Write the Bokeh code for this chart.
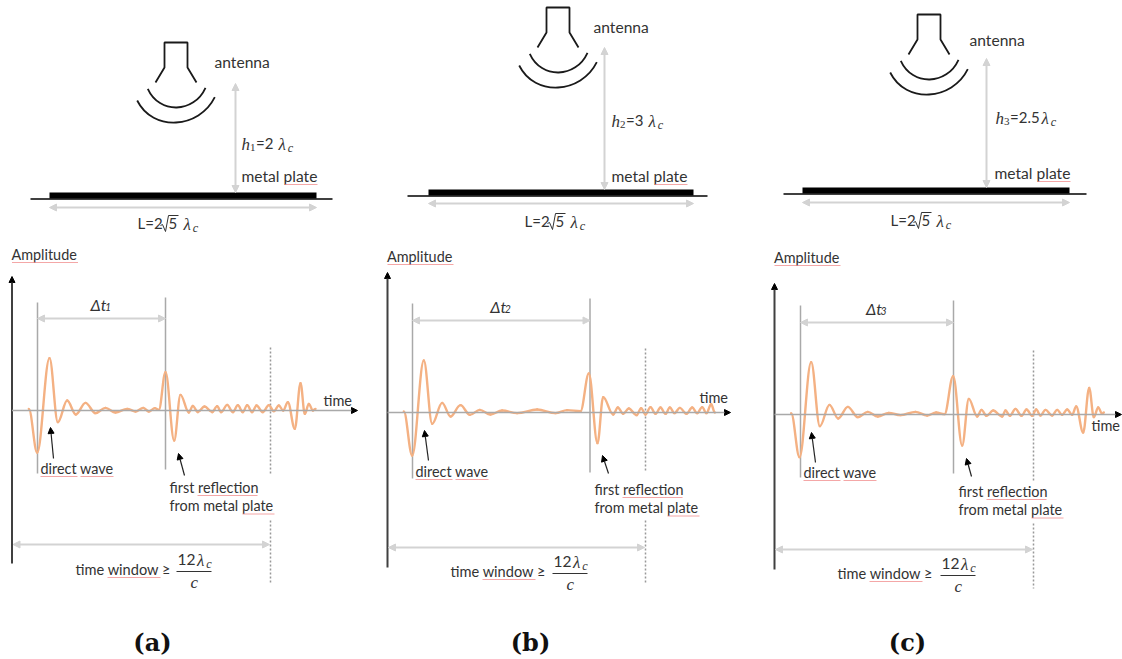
from bokeh.plotting import figure
from bokeh.models import Range1d, Arrow, NormalHead
from bokeh.core.properties import value
from bokeh.embed import file_html
from bokeh.resources import INLINE

# ---- waveform extrema (time, amplitude), in 1/3 px units
time_a = [85,110,147,172,200,226,255,285,315,345,380,405,428,445,463,475,495,521,540,565,577,592,612,635,650,662,680,697,712,727,740,755,768,787,805,820,835,848,862,883,900,913,925,937,945]
amp_a = [5,-126,157,-35,30,-12,23,-8,8,-6,5,-3,8,-3,7,2,115,-90,47,-6,14,-5,12,-5,13,-5,17,-5,16,-5,16,-5,15,-5,16,-2,15,0,25,-55,82,-10,20,0,5]
time_b = [70,95,130,155,185,210,240,268,298,330,365,410,470,525,560,600,625,651,668,698,712,728,745,768,782,795,810,825,840,855,868,882,898,918,935,950,965,978,992,1003]
amp_b = [3,-129,156,-34,29,-12,22,-7,8,-6,6,-2,9,-2,7,4,117,-92,46,-6,15,-4,12,-8,13,-6,16,-4,15,-4,15,-2,14,-4,15,-2,16,-2,25,0]
time_c = [62,87,122,148,177,203,232,262,292,322,355,390,435,470,497,522,548,575,595,620,633,648,668,695,705,718,735,753,768,785,797,810,825,845,860,875,890,905,917,938,956,970,983,995,1000]
amp_c = [4,-128,157,-35,29,-12,23,-8,8,-6,5,-2,8,-3,6,1,115,-93,47,-6,14,-4,12,-6,12,-4,17,-4,15,-4,15,-3,14,-3,14,-1,15,-1,24,-54,80,-8,21,2,6]
wave_times = [time_a, time_b, time_c]
wave_amps = [amp_a, amp_b, amp_c]
wave_x0 = [0, 380, 770]

# ---- panel geometry (px)
panel_sub = ["1", "2", "3"]
height_txt = ["=2", "=3", "=2.5"]
antenna_dx = [0, 382, 753]
antenna_dy = [0, -35, -28]
plate_left = [49, 428, 802]
plate_right = [316, 693, 1069]
plate_top = [192, 189, 187]
ground_left = [30, 407, 783]
ground_right = [332, 707, 1086]
h_arrow_x = [235, 604, 986]
h_arrow_top = [83, 47, 58]
h_label_xy = [(241, 144), (611, 121), (995, 118)]
plate_label_xy = [(241, 177), (611, 177), (994, 174)]
ant_label_xy = [(214, 63), (593, 28), (969, 41)]
l_arrow_y = [207, 203, 202]
l_label_x = [137, 524, 890]
l_label_y = [224, 222, 221]
yaxis_x = [11.5, 387, 774]
yaxis_top = [276, 272, 283]
yaxis_bot = [563, 567, 569]
ampl_y = [255, 257, 258]
xaxis_y = [410, 412, 414]
xaxis_end = [357, 730, 1121]
v1_x = [37, 412, 800]
v1_top = [302, 303, 305]
v1_bot = [473, 478, 477]
v2_x = [165, 589.5, 953]
v2_top = [297, 298, 300]
v2_bot = [469, 472, 473]
delta_y = [318, 320, 322]
dot_x = [270, 645, 1033]
dot_top = [347, 348, 350]
dot_gap = [473, 470, 480]
dot_resume = [520, 520, 523]
dot_bot = [582, 584, 588]
time_xy = [(323, 401), (699, 398), (1091, 426)]
direct_xy = [(40, 469), (415, 472), (803, 473)]
direct_arrow = [(53, 458, 50, 427), (428, 460, 424, 430), (815, 462, 811, 432)]
refl_xy = [(169, 488), (594, 490), (958, 492)]
refl_arrow = [(184, 475, 178, 453), (608, 473, 602, 455), (971, 476, 966, 458)]
win_y = [544, 547, 549]
win_txt_x = [75, 450, 837]
frac_left = [176, 552, 940]
frac_y = [571, 573, 575]
caption_x = [152, 530, 907]
captions = ["(a)", "(b)", "(c)"]

# antenna template in panel (a)
horn_x = [155, 164, 164, 187, 187, 196]
horn_y = [82, 67, 42, 42, 67, 82]
arc_ends = [(147.3, 88.3, 205, 87.3, 107), (136.7, 100, 214.3, 96.7, 122)]

SANS = value("Lato")
MATH = value("Liberation Serif")
GREY = "#d3d3d3"
MID = "#a9a9a9"
ORANGE = "#f4b183"
INK = "#333333"
PINK = "#f08a8a"

p = figure(width=1122, height=659, x_range=Range1d(0, 1122), y_range=Range1d(659, 0),
           x_axis_type=None, y_axis_type=None, output_backend="svg", toolbar_location=None,
           min_border=0, outline_line_color=None, background_fill_color="white")
p.grid.visible = False


def label(x, y, s, size=14.4, font=SANS, color=INK, style="normal", align="left", baseline="middle"):
    p.text([x], [y - 1.5 if font == SANS else y], text=[s], text_font=font,
           text_font_size=f"{size}px", text_color=color,
           text_font_style=style, text_align=align, text_baseline=baseline)


def lambda_c(x, y, size=17):
    label(x, y, "λ", size, MATH, INK, "italic")
    label(x + size * 0.55, y + 3, "c", size * 0.72, MATH, INK, "italic")


def dbl_arrow(x0, y0, x1, y1):
    p.add_layout(Arrow(start=NormalHead(size=7, fill_color=GREY, line_color=GREY),
                       end=NormalHead(size=7, fill_color=GREY, line_color=GREY),
                       x_start=x0, y_start=y0, x_end=x1, y_end=y1, line_color=GREY, line_width=2))


def squiggle(x0, x1, y):
    p.line([x0, x1], [y, y], line_color=PINK, line_width=1, line_alpha=0.75)


for i in range(3):
    # antenna
    dx, dy = antenna_dx[i], antenna_dy[i]
    p.line([v + dx for v in horn_x], [v + dy for v in horn_y], line_color="#1a1a1a", line_width=1.8)
    for x0, y0, x1, y1, bot in arc_ends:
        w = x1 - x0
        c = (bot - (y0 + y1) / 2) / 0.75
        p.bezier([x0 + dx], [y0 + dy], [x1 + dx], [y1 + dy],
                 [x0 + dx + 0.2 * w], [y0 + dy + c], [x1 + dx - 0.2 * w], [y1 + dy + c],
                 line_color="#1a1a1a", line_width=1.8)
    label(ant_label_xy[i][0], ant_label_xy[i][1], "antenna", 15.6)

    # plate and ground
    p.quad(left=[plate_left[i]], right=[plate_right[i]], top=[plate_top[i]], bottom=[plate_top[i] + 6],
           fill_color="black", line_color=None)
    p.line([ground_left[i], ground_right[i]], [plate_top[i] + 6.5] * 2, line_color="black", line_width=1.5)
    dbl_arrow(h_arrow_x[i], h_arrow_top[i], h_arrow_x[i], plate_top[i])
    dbl_arrow(plate_left[i], l_arrow_y[i], plate_right[i], l_arrow_y[i])

    # height label
    hx, hy = h_label_xy[i]
    label(hx, hy, "h", 17, MATH, INK, "italic")
    label(hx + 8.5, hy + 3, panel_sub[i], 11, MATH)
    label(hx + 14.5, hy, height_txt[i], 15)
    lambda_c(hx + 14 + (23 if i < 2 else 32), hy)

    # metal plate label
    mx, my = plate_label_xy[i]
    label(mx, my, "metal plate", 15.6)
    squiggle(mx + 43, mx + 76, my + 7)

    # L label with radical
    lx, ly = l_label_x[i], l_label_y[i]
    label(lx, ly, "L=2", 15)
    p.line([lx + 23, lx + 25, lx + 28, lx + 31, lx + 41],
           [ly + 1, ly, ly + 7, ly - 9, ly - 9], line_color=INK, line_width=1)
    label(lx + 31, ly, "5", 15)
    lambda_c(lx + 46, ly)

    # axes
    label(yaxis_x[i] - 0.5, ampl_y[i], "Amplitude")
    squiggle(yaxis_x[i], yaxis_x[i] + 66, ampl_y[i] + 7)
    p.add_layout(Arrow(end=NormalHead(size=6, fill_color="black", line_color="black"),
                       x_start=yaxis_x[i], y_start=yaxis_bot[i], x_end=yaxis_x[i], y_end=yaxis_top[i],
                       line_color="#404040", line_width=2))
    p.add_layout(Arrow(end=NormalHead(size=6, fill_color="black", line_color="black"),
                       x_start=yaxis_x[i], y_start=xaxis_y[i], x_end=xaxis_end[i], y_end=xaxis_y[i],
                       line_color=MID, line_width=1.5))
    label(time_xy[i][0], time_xy[i][1], "time", 14.5)

    # markers
    p.line([v1_x[i]] * 2, [v1_top[i], v1_bot[i]], line_color=MID, line_width=1.5)
    p.line([v2_x[i]] * 2, [v2_top[i], v2_bot[i]], line_color=MID, line_width=1.5)
    dbl_arrow(v1_x[i], delta_y[i], v2_x[i], delta_y[i])
    dmid = (v1_x[i] + v2_x[i]) / 2
    label(dmid - 11, delta_y[i] - 13, "Δt", 16, SANS, INK, "italic")
    label(dmid + 3.5, delta_y[i] - 10, panel_sub[i], 10.5, SANS, INK, "italic")
    for a, b in ((dot_top[i], dot_gap[i]), (dot_resume[i], dot_bot[i])):
        p.line([dot_x[i]] * 2, [a, b], line_color="#999999", line_width=1.5, line_dash="2 2")

    # waveform: horizontal-tangent Bezier segments between read extrema
    t = [wave_x0[i] + v / 3 for v in wave_times[i]]
    y = [xaxis_y[i] - v / 3 for v in wave_amps[i]]
    p.bezier(t[:-1], y[:-1], t[1:], y[1:],
             [a + (b - a) * 0.36 for a, b in zip(t[:-1], t[1:])], y[:-1],
             [b - (b - a) * 0.36 for a, b in zip(t[:-1], t[1:])], y[1:],
             line_color=ORANGE, line_width=2.4, line_cap="round")

    # annotations
    for (x0, y0, x1, y1) in (direct_arrow[i], refl_arrow[i]):
        p.add_layout(Arrow(end=NormalHead(size=6, fill_color="black", line_color="black"),
                           x_start=x0, y_start=y0, x_end=x1, y_end=y1, line_color="#222222", line_width=1.2))
    dx0, dy0 = direct_xy[i]
    label(dx0, dy0, "direct wave")
    squiggle(dx0, dx0 + 37, dy0 + 7)
    squiggle(dx0 + 40, dx0 + 73, dy0 + 7)
    rx, ry = refl_xy[i]
    label(rx, ry, "first reflection")
    squiggle(rx + 28, rx + 88, ry + 7)
    label(rx, ry + 18.5, "from metal plate")
    squiggle(rx + 73, rx + 105, ry + 25.5)

    # time window
    dbl_arrow(yaxis_x[i] + 1, win_y[i], dot_x[i] - 1, win_y[i])
    wx = win_txt_x[i]
    label(wx, frac_y[i] - 1, "time window ≥", 14.6)
    squiggle(wx + 32, wx + 85, frac_y[i] + 6)
    fx, fy = frac_left[i], frac_y[i]
    p.line([fx, fx + 35], [fy, fy], line_color=INK, line_width=1)
    label(fx + 1, fy - 11, "12", 15.5)
    lambda_c(fx + 20.5, fy - 11)
    label(fx + 14, fy + 11, "c", 17, MATH, INK, "italic")

    # caption
    label(caption_x[i], 641.5, captions[i], 24, value("DejaVu Serif"), "#111111", "bold", "center")

open("out.html", "w").write(file_html(p, INLINE))
